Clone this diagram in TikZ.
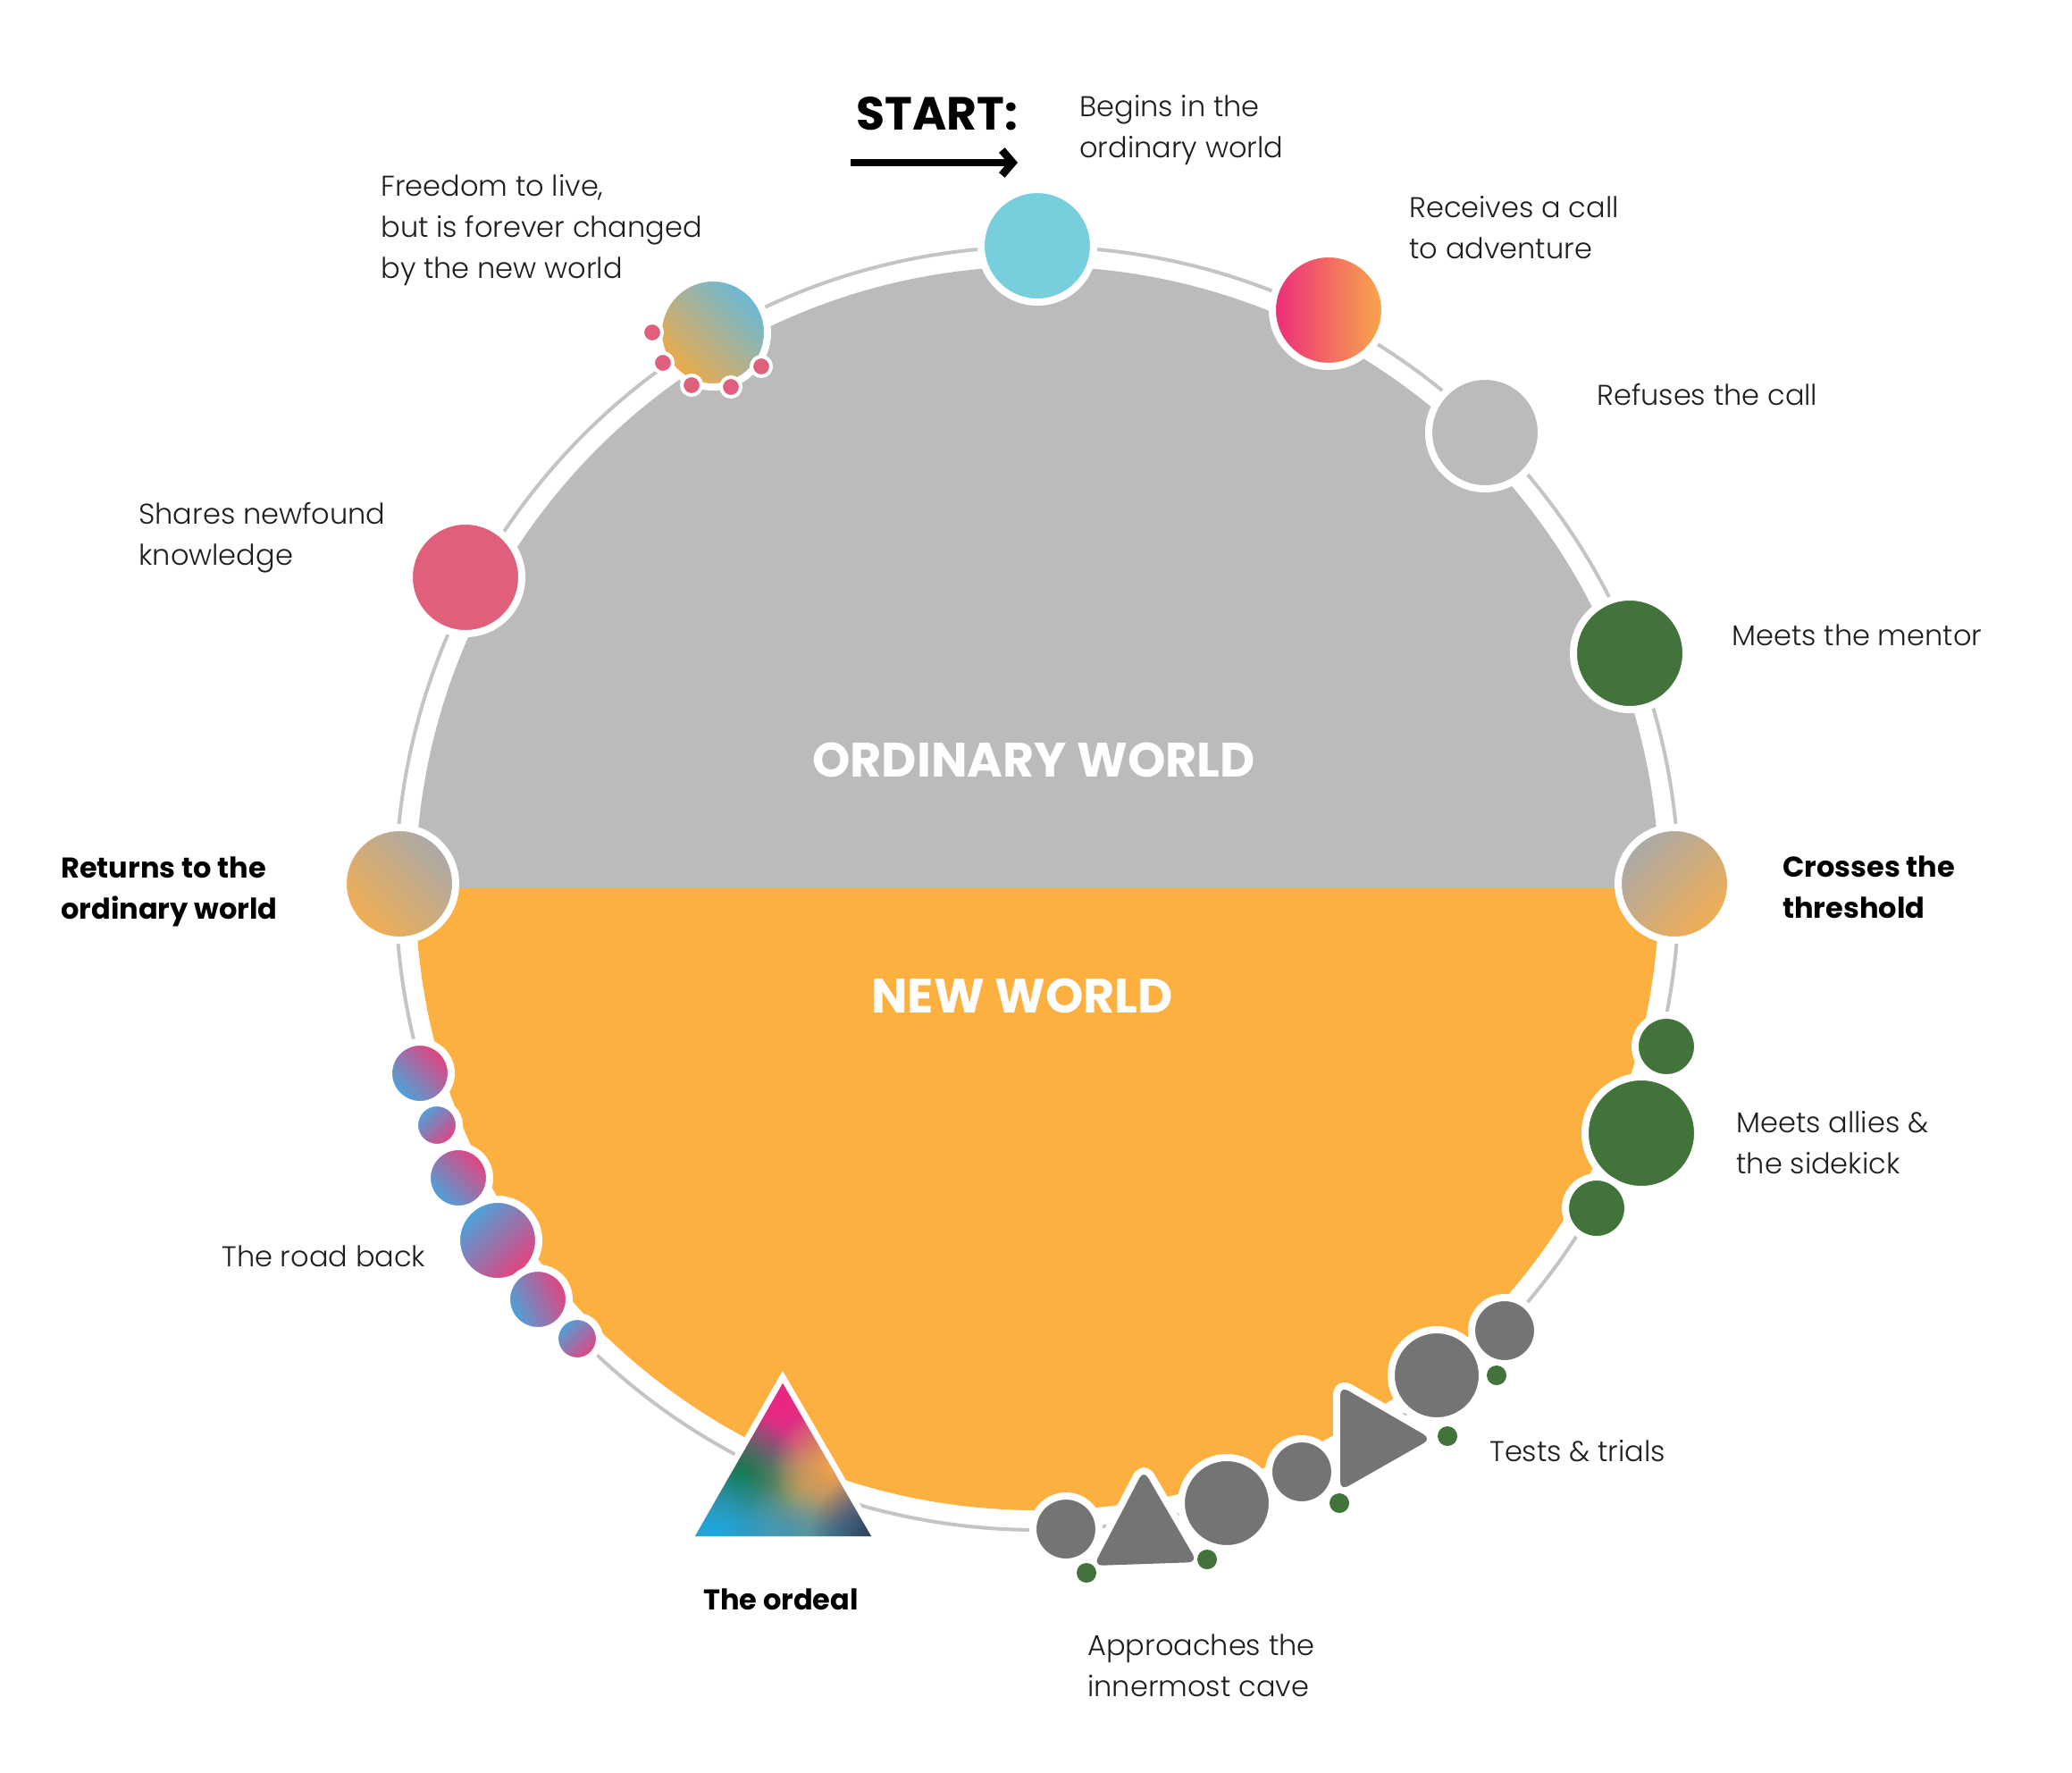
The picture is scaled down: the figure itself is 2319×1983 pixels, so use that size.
\documentclass[tikz,border=0pt]{standalone}
\usepackage{fontspec}
\setmainfont{Poppins}[UprightFont=* Light, BoldFont=* Bold]
\usetikzlibrary{arrows.meta,fadings}

\definecolor{ringgray}{HTML}{C4C4C4}
\definecolor{diskgray}{HTML}{BBBBBB}
\definecolor{diskorange}{HTML}{FBB040}
\definecolor{startcyan}{HTML}{77CEDC}
\definecolor{callpink}{HTML}{EC2B7B}
\definecolor{callorange}{HTML}{F9AA4A}
\definecolor{mentorgreen}{HTML}{41733A}
\definecolor{shapegray}{HTML}{747474}
\definecolor{sharepink}{HTML}{E0607B}
\definecolor{roadblue}{HTML}{46A6DE}
\definecolor{roadpink}{HTML}{EA3F7A}
\definecolor{thgray}{HTML}{A9A9A9}
\definecolor{thorange}{HTML}{F3AE52}
\definecolor{freeblue}{HTML}{68B9DA}
\definecolor{freeorange}{HTML}{F2AA45}
\definecolor{txt}{HTML}{1E1E1E}
\definecolor{ordpink}{HTML}{EC2580}
\definecolor{ordgreen}{HTML}{0E7A44}
\definecolor{ordorange}{HTML}{F3A744}
\definecolor{ordcyan}{HTML}{19A9E1}
\definecolor{ordnavy}{HTML}{2B3A55}
\definecolor{ordteal}{HTML}{4A95AD}
\definecolor{ordolive}{HTML}{B0A05C}

\tikzfading[name=softblob, inner color=transparent!0, outer color=transparent!100]

\newcommand\myblob[4]{\fill[#1, path fading=softblob] (#2,#3) circle[radius=#4];}

\tikzset{
  ringline/.style={draw=ringgray, line width=2pt},
  stage/.style={circle, inner sep=0pt, draw=white, line width=4pt, minimum size=#1},
  pinkdot/.style={circle, inner sep=0pt, draw=white, line width=2pt, minimum size=11pt, fill=sharepink},
  gdot/.style={circle, inner sep=0pt, minimum size=11pt, fill=mentorgreen},
  lbl/.style={anchor=west, align=left, inner sep=0pt, text=txt, font=\fontsize{16}{23}\selectfont},
  blbl/.style={lbl, font=\fontsize{16}{23}\selectfont\bfseries, text=black},
  worldlabel/.style={inner sep=0pt, text=white, font=\fontsize{27}{30}\selectfont\bfseries},
  halo/.style={draw=white, fill=white, line width=8pt, rounded corners=5pt, line join=round},
  grayshape/.style={fill=shapegray, rounded corners=5pt},
  roadA/.style={top color=roadpink, bottom color=roadblue, shading angle=-45},
  roadB/.style={top color=roadblue, bottom color=roadpink, shading angle=45},
}

\begin{document}
\begin{tikzpicture}[x=0.5pt, y=-0.5pt]
\useasboundingbox (0,0) rectangle (2319,1983);
\fill[white] (0,0) rectangle (2319,1983);

% ring and worlds
\coordinate (c) at (1161,994);
\draw[ringline] (c) circle[radius=718];
\fill[diskgray] (c) ++(-696,0) arc[start angle=180, end angle=360, radius=696] -- cycle;
\fill[diskorange] (c) ++(696,0) arc[start angle=0, end angle=180, radius=696] -- cycle;

\node[worldlabel] (ow) at (1157,850) {ORDINARY WORLD};
\node[worldlabel] (nw) at (1144,1114) {NEW WORLD};

% start
\node[inner sep=0pt, font=\fontsize{26}{30}\selectfont\bfseries] (start) at (1049,127) {START:};
\coordinate (arrS) at (952,182);
\coordinate (arrE) at (1139,182);
\draw[line width=4.3pt, -{Straight Barb[length=6pt, width=14pt]}] (arrS) -- (arrE);

% stages on the ring
\node[stage=63pt, fill=startcyan] (begin) at (1161,275) {};
\node[stage=63pt, left color=callpink, right color=callorange] (call) at (1487,347) {};
\node[stage=63pt, fill=diskgray] (refuse) at (1662,484) {};
\node[stage=63pt, fill=mentorgreen] (mentor) at (1824,731) {};
\node[stage=63pt, top color=thgray, bottom color=thorange, shading angle=45] (threshold) at (1874,989) {};

\node[stage=35pt, fill=mentorgreen] (ally1) at (1865,1171) {};
\node[stage=63pt, fill=mentorgreen] (ally2) at (1837,1268) {};
\node[stage=35pt, fill=mentorgreen] (ally3) at (1787,1352) {};

% tests and trials / approach
\node[stage=37pt, fill=shapegray] (g1) at (1684,1489) {};
\node[stage=51pt, fill=shapegray] (g2) at (1608,1539) {};
\coordinate (rt1) at (1500,1551);
\coordinate (rt2) at (1500,1668);
\coordinate (rt3) at (1602,1610);
\path[halo] (rt1) -- (rt2) -- (rt3) -- cycle;
\path[grayshape] (rt1) -- (rt2) -- (rt3) -- cycle;
\node[stage=37pt, fill=shapegray] (g4) at (1457,1647) {};
\node[stage=51pt, fill=shapegray] (g5) at (1373,1682) {};
\coordinate (ut1) at (1280,1645);
\coordinate (ut2) at (1224,1752);
\coordinate (ut3) at (1340,1748);
\path[halo] (ut1) -- (ut2) -- (ut3) -- cycle;
\path[grayshape] (ut1) -- (ut2) -- (ut3) -- cycle;
\node[stage=37pt, fill=shapegray] (g7) at (1193,1711) {};

\node[gdot] (gd1) at (1675,1539) {};
\node[gdot] (gd2) at (1620,1607) {};
\node[gdot] (gd3) at (1499,1682) {};
\node[gdot] (gd4) at (1351,1745) {};
\node[gdot] (gd5) at (1216,1760) {};

% the ordeal
\coordinate (oA) at (876,1548);
\coordinate (oB) at (778,1719);
\coordinate (oC) at (975,1719);
\draw[white, line width=7pt, line join=miter] (oA) -- (oB) -- (oC) -- cycle;
\begin{scope}
  \clip (oA) -- (oB) -- (oC) -- cycle;
  \shade[top color=ordpink, bottom color=ordteal] (770,1540) rectangle (985,1725);
  \myblob{ordpink}{876}{1570}{75}
  \myblob{ordolive}{888}{1675}{60}
  \myblob{ordgreen}{828}{1652}{72}
  \myblob{ordorange}{932}{1640}{68}
  \myblob{ordteal}{880}{1715}{55}
  \myblob{ordcyan}{800}{1718}{85}
  \myblob{ordnavy}{978}{1722}{75}
\end{scope}

% the road back
\node[stage=35pt, roadA] (r1) at (470,1201) {};
\node[stage=25pt, roadB] (r2) at (489,1259) {};
\node[stage=35pt, roadA] (r3) at (513,1318) {};
\node[stage=46pt, roadB] (r4) at (557,1388) {};
\node[stage=35pt, top color=roadpink, bottom color=roadblue, shading angle=-65] (r5) at (602,1454) {};
\node[stage=25pt, roadB] (r6) at (646,1498) {};

% return side
\node[stage=63pt, top color=thgray, bottom color=thorange, shading angle=-45] (returns) at (447,989) {};
\node[stage=63pt, fill=sharepink] (shares) at (521,646) {};
\node[stage=61pt, top color=freeblue, bottom color=freeorange, shading angle=-45] (freedom) at (798,372) {};
\node[pinkdot] (fd1) at (730,372) {};
\node[pinkdot] (fd2) at (742,406) {};
\node[pinkdot] (fd3) at (774,431) {};
\node[pinkdot] (fd4) at (818,433) {};
\node[pinkdot] (fd5) at (852,410) {};

% labels
\node[lbl] (tbegin) at (1208,146) {Begins in the\\ordinary world};
\node[lbl] (tcall) at (1577,255) {Receives a call\\to adventure};
\node[lbl] (trefuse) at (1787,442) {Refuses the call};
\node[lbl] (tmentor) at (1938,711) {Meets the mentor};
\node[blbl] (tthreshold) at (1995,993) {Crosses the\\threshold};
\node[lbl] (tallies) at (1943,1279) {Meets allies \&\\the sidekick};
\node[lbl] (ttests) at (1667,1624) {Tests \& trials};
\node[lbl] (tcave) at (1217,1864) {Approaches the\\innermost cave};
\node[blbl, anchor=center] (tordeal) at (874,1790) {The ordeal};
\node[lbl] (troad) at (248,1406) {The road back};
\node[blbl] (treturns) at (68,998) {Returns to the\\ordinary world};
\node[lbl] (tshares) at (155,602) {Shares newfound\\knowledge};
\node[lbl] (tfreedom) at (426,258) {Freedom to live,\\but is forever changed\\by the new world};
\end{tikzpicture}
\end{document}
